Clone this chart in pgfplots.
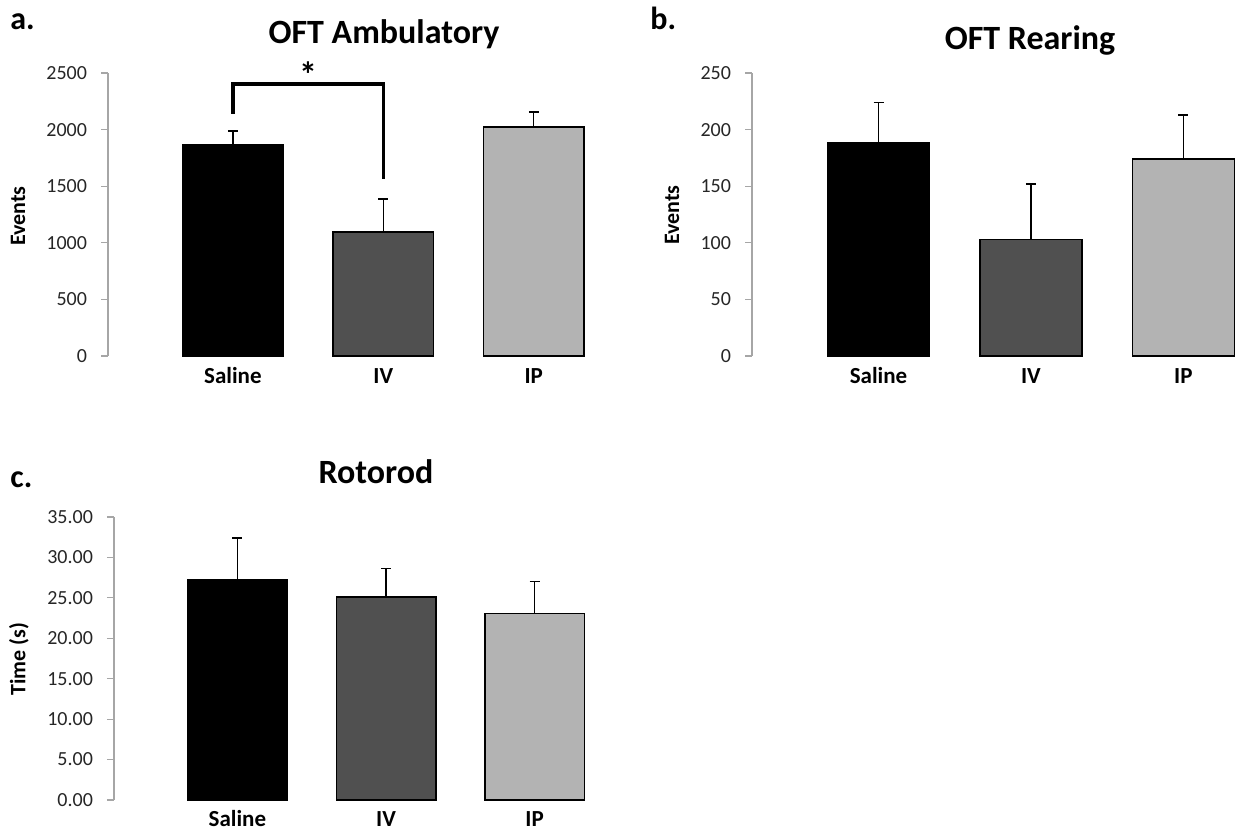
\documentclass[border=0pt]{standalone}
\usepackage{fontspec}
\setmainfont{Carlito}
\usepackage{pgfplots}
\pgfplotsset{compat=1.18}
\definecolor{dgray}{HTML}{505050}
\definecolor{lgray}{HTML}{B3B3B3}
\definecolor{axgray}{HTML}{A6A6A6}
\pgfplotsset{panel/.style={
  scale only axis, height=141.5pt, anchor=south west,
  axis y line*=left, axis x line*=bottom,
  x axis line style={draw=none},
  y axis line style={draw=axgray, line width=0.6pt},
  ytick style={draw=axgray, line width=0.6pt},
  tick align=outside, major tick length=3.5pt,
  xtick={0,1,2}, xticklabels={Saline,IV,IP},
  xtick style={draw=none},
  xticklabel style={font=\bfseries\fontsize{11.5}{13}\selectfont, text=black, anchor=base, yshift=-10pt},
  yticklabel style={font=\fontsize{10}{12}\selectfont, text=black!85, xshift=-3.5pt},
  /pgf/number format/assume math mode=true,
  /pgf/number format/1000 sep={},
  ymin=0, xmin=-0.83, xmax=2.5, clip=false,
  ybar,
  every axis plot/.append style={bar shift=0pt, bar width=0.67, draw=black, line width=0.7pt,
    error bars/y dir=plus, error bars/y explicit,
    error bars/error mark=|,
    error bars/error bar style={black, line width=0.7pt},
    error bars/error mark options={black, line width=0.7pt, mark size=2.5pt}},
}}
\begin{document}
\begin{tikzpicture}
\useasboundingbox (0,0) rectangle (618pt,415.5pt);
% Panel a
\begin{axis}[panel, at={(54pt,237.5pt)}, width=250.5pt, ymax=2500, ytick={0,500,...,2500}]
\addplot[fill=black] coordinates {(0,1864) +- (0,124)};
\addplot[fill=dgray] coordinates {(1,1095) +- (0,292)};
\addplot[fill=lgray] coordinates {(2,2023) +- (0,132)};
\draw[line width=1.7pt] (axis cs:0,2138) -- (axis cs:0,2403) -- (axis cs:1,2403) -- (axis cs:1,1564);
\node[font=\bfseries\fontsize{18}{20}\selectfont] at (axis cs:0.5,2490) {*};
\end{axis}
% Panel b
\begin{axis}[panel, at={(376pt,237.5pt)}, width=253.75pt, ymax=250, ytick={0,50,...,250}]
\addplot[fill=black] coordinates {(0,188) +- (0,36)};
\addplot[fill=dgray] coordinates {(1,103) +- (0,49)};
\addplot[fill=lgray] coordinates {(2,174) +- (0,39)};
\end{axis}
% Panel c
\begin{axis}[panel, at={(57pt,15.5pt)}, width=247.5pt, ymax=35, ytick={0,5,...,35},
  yticklabel style={/pgf/number format/.cd, fixed, fixed zerofill, precision=2},
  xticklabel style={yshift=0.5pt}]
\addplot[fill=black] coordinates {(0,27.2) +- (0,5.2)};
\addplot[fill=dgray] coordinates {(1,25.1) +- (0,3.5)};
\addplot[fill=lgray] coordinates {(2,23.1) +- (0,3.9)};
\end{axis}
% titles and labels
\node[anchor=base, font=\bfseries\fontsize{17}{19}\selectfont] at (192pt,393.5pt) {OFT Ambulatory};
\node[anchor=base, font=\bfseries\fontsize{17}{19}\selectfont] at (515pt,390.5pt) {OFT Rearing};
\node[anchor=base, font=\bfseries\fontsize{17}{19}\selectfont] at (188pt,174pt) {Rotorod};
\node[anchor=base west, inner sep=0pt, font=\bfseries\fontsize{16}{18}\selectfont] at (5pt,400.5pt) {a.};
\node[anchor=base west, inner sep=0pt, font=\bfseries\fontsize{16}{18}\selectfont] at (325pt,400.5pt) {b.};
\node[anchor=base west, inner sep=0pt, font=\bfseries\fontsize{16}{18}\selectfont] at (5pt,172pt) {c.};
\node[rotate=90, font=\bfseries\fontsize{11}{13}\selectfont] at (9pt,307.5pt) {Events};
\node[rotate=90, font=\bfseries\fontsize{11}{13}\selectfont] at (336pt,308pt) {Events};
\node[rotate=90, font=\bfseries\fontsize{11}{13}\selectfont] at (9.5pt,86pt) {Time (s)};
\end{tikzpicture}
\end{document}
